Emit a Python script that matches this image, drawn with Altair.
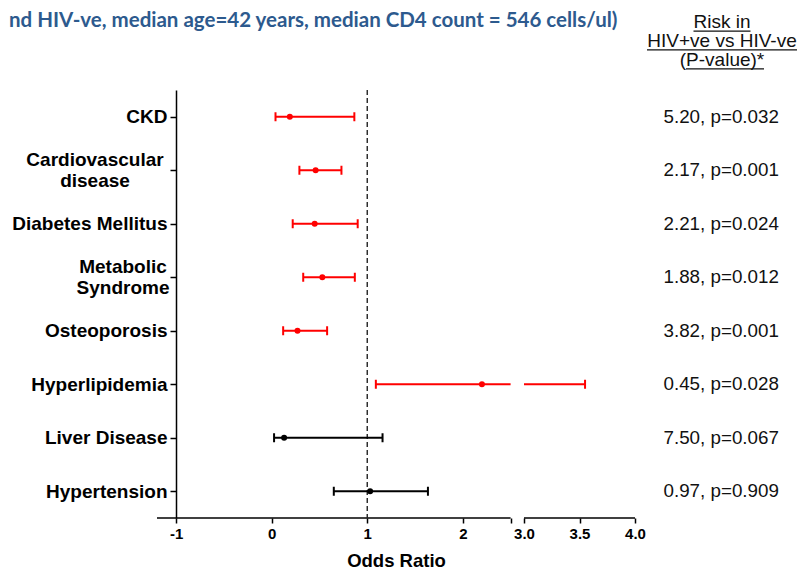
import altair as alt
import pandas as pd

# ---------------- data ----------------
categories = ["CKD", "Cardiovascular disease", "Diabetes Mellitus", "Metabolic Syndrome",
              "Osteoporosis", "Hyperlipidemia", "Liver Disease", "Hypertension"]
odds_ratio = [0.19, 0.46, 0.45, 0.53, 0.27, 2.20, 0.13, 1.03]
ci_low = [0.04, 0.29, 0.22, 0.33, 0.12, 1.09, 0.025, 0.65]
ci_high = [0.865, 0.73, 0.90, 0.87, 0.58, 3.55, 1.16, 1.635]
significant = ["yes", "yes", "yes", "yes", "yes", "yes", "no", "no"]
risk_text = ["5.20, p=0.032", "2.17, p=0.001", "2.21, p=0.024", "1.88, p=0.012",
             "3.82, p=0.001", "0.45, p=0.028", "7.50, p=0.067", "0.97, p=0.909"]

two_line_labels = {"Cardiovascular disease": ["Cardiovascular", "disease"],
                   "Metabolic Syndrome": ["Metabolic", "Syndrome"]}

x_tick_values = [-1, 0, 1, 2, 2.5, 3.0, 3.5, 4.0]
axis_segment_start = [-1.2, 3.0]
axis_segment_end = [2.5, 4.0]
break_low, break_high = 2.5, 3.0
null_ratio = 1

header_lines = ["Risk in", "HIV+ve vs HIV-ve", "(P-value)*"]
title_text = "nd HIV-ve, median age=42 years, median CD4 count = 546 cells/ul)"

# ---------------- layout / style ----------------
W, H = 478, 428
PAD_L, PAD_T = 149, 82
SVG_W, SVG_H = 790, 562
FONT = "Liberation Sans"
RED, BLACK, BLUE = "#FF0000", "#000000", "#2D5A8E"

df = pd.DataFrame({"condition": categories, "or_": odds_ratio, "lo": ci_low,
                   "hi": ci_high, "sig": significant, "risk": risk_text})
seg = pd.DataFrame({"start": axis_segment_start, "end": axis_segment_end})

x_scale = alt.Scale(domain=[axis_segment_start[0], break_low, break_high, axis_segment_end[1]],
                    range=[0, 353.6, 367, W], nice=False, zero=False)

label_expr = ("datum.value == 2.5 ? '' : (datum.value >= 3 ? format(datum.value, '.1f') "
              ": toString(datum.value))")
x_axis = alt.Axis(values=x_tick_values, labelExpr=label_expr, domain=False, grid=False,
                  tickColor=BLACK, tickWidth=1.5, tickSize=5,
                  labelFont=FONT, labelFontWeight="bold", labelFontSize=15, labelColor=BLACK,
                  labelPadding=3, labelOverlap=False, labelFlush=False,
                  title="Odds Ratio", titleFont=FONT, titleFontWeight="bold", titleFontSize=18.5,
                  titleColor=BLACK, titlePadding=10)


def X(field):
    return alt.X(field, type="quantitative", scale=x_scale, axis=x_axis)


ylab = "datum.value"
for k, v in two_line_labels.items():
    ylab = f"datum.value == '{k}' ? {v!r} : (" + ylab + ")"
two_test = "indexof(" + repr(list(two_line_labels)) + ", datum.value) >= 0"

y_axis = alt.Axis(
    offset=-19, domainColor=BLACK, domainWidth=1.5, tickColor=BLACK,
    tickWidth=1.5, tickSize=6, labelFont=FONT, labelFontWeight="bold",
    labelFontSize=19, labelColor=BLACK, labelExpr=ylab, labelLineHeight=21,
    labelLimit=400, grid=False, title=None,
    labelAlign={"condition": {"test": two_test, "value": "center"}, "value": "right"},
    labelPadding={"condition": [
        {"test": "datum.value == 'Cardiovascular disease'", "value": 75.5},
        {"test": "datum.value == 'Metabolic Syndrome'", "value": 47.5}], "value": 3},
    labelOffset={"condition": {"test": two_test, "value": -10.5}, "value": 0},
)
Y = alt.Y("condition:N", scale=alt.Scale(type="point", domain=categories, padding=0.5),
          axis=y_axis)
C = alt.Color("sig:N", scale=alt.Scale(domain=["yes", "no"], range=[RED, BLACK]), legend=None)

base = alt.Chart(df)

axis_line = alt.Chart(seg).mark_rule(color=BLACK, strokeWidth=1.5).encode(
    x=X("start"), x2="end", y=alt.value(H))

ref_line = alt.Chart(alt.Data(values=[{"v": null_ratio}])).mark_rule(
    color="#222222", strokeWidth=1.4, strokeDash=[5, 3]).encode(x=X("v"))

ci_left = base.transform_calculate(hi_left=f"min(datum.hi, {break_low})").mark_rule(
    strokeWidth=2.2).encode(x=X("lo"), x2="hi_left", y=Y, color=C)

ci_right = base.transform_filter(f"datum.hi > {break_high}").transform_calculate(
    lo_right=f"max(datum.lo, {break_high})").mark_rule(strokeWidth=2.2).encode(
    x=X("lo_right"), x2="hi", y=Y, color=C)

cap_lo = base.mark_tick(thickness=2, size=9, opacity=1).encode(x=X("lo"), y=Y, color=C)
cap_hi = base.mark_tick(thickness=2, size=9, opacity=1).encode(x=X("hi"), y=Y, color=C)
points = base.mark_circle(size=36, opacity=1).encode(x=X("or_"), y=Y, color=C)

annot = base.mark_text(align="left", baseline="middle", font=FONT, fontSize=18.8,
                       color="#111111").encode(y=Y, x=alt.value(506.5), text="risk:N")

one = alt.Data(values=[{"k": 0}])
header = alt.Chart(one).mark_text(text=header_lines, align="center", baseline="alphabetic",
                                  font=FONT, fontSize=19, lineHeight=18.7,
                                  color="#111111").encode(x=alt.value(565), y=alt.value(-61.7))
underlines = [
    alt.Chart(one).mark_rule(color="#111111", strokeWidth=1.2).encode(
        x=alt.value(a), x2=alt.value(b), y=alt.value(yv))
    for a, b, yv in [(536.5, 593.5, -58.8), (490, 640, -40.2), (529, 607, -21.2)]
]
title = alt.Chart(one).mark_text(text=title_text, align="left", baseline="alphabetic",
                                 font="Lato", fontWeight="bold", fontSize=20.5,
                                 color=BLUE).encode(x=alt.value(-PAD_L + 1), y=alt.value(-63.5))

chart = alt.layer(axis_line, ref_line, ci_left, ci_right, cap_lo, cap_hi, points, annot,
                  header, *underlines, title).properties(
    width=W, height=H,
    autosize=alt.AutoSizeParams(type="none"),
    padding={"left": PAD_L, "top": PAD_T, "right": SVG_W - PAD_L - W,
             "bottom": SVG_H - PAD_T - H},
    background="white",
).configure_view(strokeWidth=0, stroke="transparent")

chart.save("out.html", embed_options={"renderer": "svg", "actions": False})
